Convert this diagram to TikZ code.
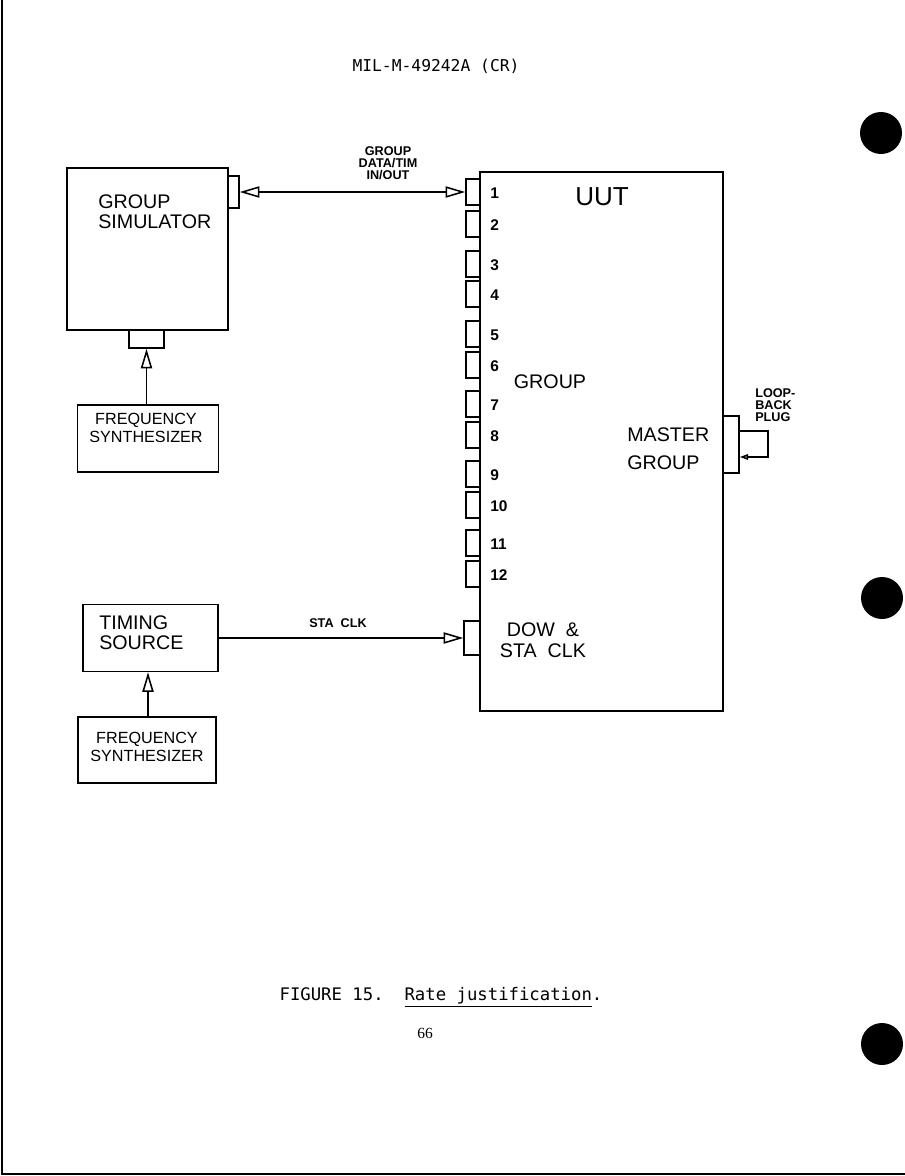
\documentclass[tikz,border=0pt]{standalone}
\usepackage{fontspec}
\setmainfont{Liberation Sans}
\newfontfamily\plotmono{DejaVu Sans Mono}
\newfontfamily\pagefont{Liberation Serif}
\usetikzlibrary{arrows.meta}

\tikzset{
  box/.style={draw, line width=1.1pt, inner sep=0pt},
  port/.style={draw, line width=1.1pt, inner sep=0pt, minimum width=0.35cm, minimum height=0.65cm},
  lbl/.style={inner sep=0pt, font=\fontsize{14}{14.5}\selectfont},
  synlbl/.style={inner sep=0pt, align=center, font=\fontsize{11.5}{12.8}\selectfont},
  tag/.style={inner sep=0pt, align=center, font=\bfseries\fontsize{9}{8.4}\selectfont},
  wire/.style={line width=1.1pt},
  opentip/.tip={Triangle[open, length=14pt, width=8pt, line width=1.1pt]},
  oarrow/.style={wire, -opentip},
}

\begin{document}
\begin{tikzpicture}[x=0.025cm, y=-0.025cm]
    \useasboundingbox (0,0) rectangle (905,1176);

    % Page edge and binder holes
    \draw[line width=2pt] (2,0) -- (2,1174) -- (905,1174);
    \fill (881,133) circle (21);
    \fill (882,598) circle (21);
    \fill (882,1044) circle (21);

    % Header
    \node[inner sep=0pt, font=\plotmono\fontsize{11.6}{12}\selectfont] (hdr) at (436,66) {MIL-M-49242A (CR)};

    % Group simulator
    \node[box, minimum width=4.025cm, minimum height=4.05cm] (gsim) at (147.5,249) {};
    \node[lbl, anchor=west, align=left] (gsimtxt) at (98,212) {GROUP\\SIMULATOR};
    \node[box, minimum width=0.275cm, minimum height=0.8cm] (gsimport) at (233.5,192) {};
    \node[box, minimum width=0.875cm, minimum height=0.45cm] (gsimin) at (146.5,339) {};

    % Frequency synthesizer for the simulator
    \node[box, minimum width=3.525cm, minimum height=1.675cm] (fsyn1) at (148,438.5) {};
    \node[synlbl] (fsyn1txt) at (146,428) {FREQUENCY\\SYNTHESIZER};
    \draw[oarrow] (fsyn1.north -| gsimin) -- (gsimin.south);

    % Timing source
    \node[box, minimum width=3.375cm, minimum height=1.675cm] (timing) at (150.5,638) {};
    \node[lbl, anchor=west, align=left] (timingtxt) at (99,633) {TIMING\\SOURCE};

    % Frequency synthesizer for the timing source
    \node[box, minimum width=3.45cm, minimum height=1.65cm] (fsyn2) at (147,750) {};
    \node[synlbl] (fsyn2txt) at (147,747) {FREQUENCY\\SYNTHESIZER};
    \draw[oarrow] (fsyn2.north -| 148,0) -- (timing.south -| 148,0);

    % UUT
    \node[box, minimum width=6.075cm, minimum height=13.475cm] (uut) at (601.5,441.5) {};
    \node[inner sep=0pt, font=\fontsize{18.5}{19}\selectfont] (uuttxt) at (602,197) {UUT};
    \node[lbl] (grouptxt) at (550,382) {GROUP};
    \node[lbl, anchor=west, align=left, font=\fontsize{14}{20}\selectfont] (mastertxt) at (627,449) {MASTER\\GROUP};
    \node[lbl, align=center, font=\fontsize{14}{15}\selectfont] (dowtxt) at (543,640) {DOW~~\&\\STA~~CLK};

    % Group ports
    \foreach \n/\y in {1/192,2/224,3/264,4/294,5/334,6/365,7/404,8/435,9/474,10/505,11/543,12/574} {
        \node[port] (p\n) at (473,\y) {};
        \node[inner sep=0pt, anchor=west, font=\bfseries\fontsize{11}{11}\selectfont] (p\n txt) at (490,\y+1) {\n};
    }
    \node[box, minimum width=0.4cm, minimum height=0.85cm] (dowport) at (472,638) {};
    \node[box, minimum width=0.4cm, minimum height=1.425cm] (mport) at (731,444.5) {};

    % Group data link
    \draw[wire, opentip-opentip] (gsimport.east) -- (p1.west);
    \node[tag] (datatxt) at (388,163) {GROUP\\DATA/TIM\\IN/OUT};

    % Station clock
    \draw[oarrow] (timing.east) -- (dowport.west);
    \node[tag] (clktxt) at (338,623) {STA~~CLK};

    % Loop-back plug
    \coordinate (lp1) at (768,431);
    \coordinate (lp2) at (768,457);
    \draw[wire, -{Triangle[open, length=6pt, width=4pt]}] (mport.east |- lp1) -- (lp1) -- (lp2) -- (mport.east |- lp2);
    \node[tag, anchor=west, align=left] (looptxt) at (755,405) {LOOP-\\BACK\\PLUG};

    % Caption
    \node[inner sep=0pt, font=\plotmono\fontsize{12.3}{13}\selectfont] (caption) at (441,997) {FIGURE 15.~~\underline{Rate justification}.};
    \node[inner sep=0pt, font=\pagefont\fontsize{11}{12}\selectfont] (pagenum) at (425,1033) {66};
\end{tikzpicture}
\end{document}
